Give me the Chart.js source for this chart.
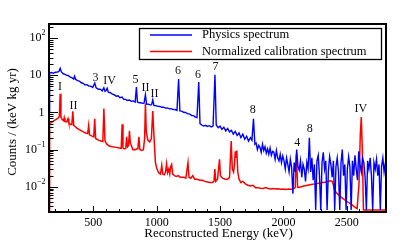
<!DOCTYPE html>
<html><head><meta charset="utf-8">
<script src="https://cdn.jsdelivr.net/npm/chart.js@4.4.1/dist/chart.umd.min.js"></script>
<style>html,body{margin:0;padding:0;background:#fff;overflow:hidden}</style>
</head><body>
<canvas id="c" width="415" height="244"></canvas>
<script>
// ---------- data ----------
const physEnergy = [
150,155,170,185,200,215,228,238,248,262,
277,290,303,318,333,345,352,360,375,390,
405,420,435,450,465,480,495,511,522,540,
555,570,583,592,600,609,618,635,650,665,
680,695,710,727,740,755,770,785,800,815,
830,840,848,862,875,890,900,911,920,935,
950,960,969,978,995,1010,1025,1040,1055,1070,
1085,1100,1115,1130,1145,1160,1173,1183,1197,1212,
1227,1242,1262,1277,1292,1305,1318,1332,1342,1355,
1370,1385,1400,1415,1430,1445,1460,1470,1485,1500,
1515,1530,1545,1560,1575,1590,1605,1620,1635,1650,
1665,1680,1695,1710,1725,1740,1752,1764,1775,
1785,1795,1805,1815,1825,1835,1845,1855,1865,1875,
1885,1895,1905,1915,1925,1935,1945,1955,1965,1975,
1985,1995,2005,2015,2025,2035,2045,2055,2065,2075,
2085,2095,2105,2115,2125,2135,2145,2155,2165,2175,
2185,2195,2205,2215,2225,2235,2245,2255,2265,2275,
2285,2295,2305,2315,2325,2335,2345,2355,2365,2375,
2385,2395,2405,2415,2425,2435,2445,2455,2465,2475,
2485,2495,2505,2515,2525,2535,2545,2555,2565,2575,
2585,2595,2605,2615,2625,2635,2645,2655,2665,2675,
2685,2695,2705,2715,2725,2735,2745,2755,2765,2775,
2785,2795,2805];
const physCounts = [
1.0,11.5,11.9,11.3,12.1,12.2,12.7,15.5,12.3,11.0,
10.6,10.0,9.8,8.9,8.5,7.9,9.4,7.8,7.2,7.0,
6.3,6.1,5.5,5.6,5.1,5.1,4.7,6.2,4.6,4.2,
4.2,3.8,4.6,3.7,3.9,4.5,3.5,3.4,3.1,3.0,
2.75,2.8,2.5,2.6,2.25,2.25,2.1,2.15,2.0,2.05,
1.9,4.8,1.92,1.82,1.83,1.76,1.78,3.0,1.68,1.67,
1.58,1.63,2.2,1.55,1.52,1.46,1.45,1.38,1.39,1.31,
1.32,1.25,1.26,1.19,1.2,1.14,7.9,1.1,1.09,1.01,
1.0,0.93,0.9,0.82,0.82,0.75,0.73,6.6,0.5,0.46,
0.43,0.45,0.42,0.44,0.41,0.43,10.3,0.46,0.39,0.43,
0.35,0.40,0.32,0.37,0.30,0.33,0.26,0.31,0.24,0.28,
0.21,0.26,0.19,0.23,0.17,0.21,0.18,0.68,0.14,
0.15,0.10,0.13,0.115,0.085,0.14,0.095,0.12,0.08,0.105,
0.075,0.11,0.07,0.09,0.085,0.055,0.095,0.06,0.05,0.075,
0.045,0.068,0.05,0.03,0.06,0.04,0.025,0.055,0.033,0.0065,
0.045,0.025,0.10,0.035,0.028,0.05,0.018,0.04,0.03,0.014,
0.045,0.03,0.21,0.025,0.06,0.015,0.04,0,0.05,0.07,
0.02,0,0.045,0.085,0.03,0.05,0,0.025,0.065,0.04,
0.018,0.05,0,0.035,0.06,0.025,0,0.045,0.1,0.02,
0.04,0,0.03,0.065,0.035,0,0.05,0.02,0.07,0.03,
0.015,0.09,0.04,0.025,0.06,0.045,0.018,0,0.05,0.03,
0.06,0.02,0,0.045,0.03,0.055,0.02,0.04,0,0.035,
0.06,0.025,0.045];

const calibEnergy = [
150,155,170,190,210,225,232,238,244,255,
265,270,276,290,300,307,320,330,338,345,
356,370,385,400,420,440,455,463,470,490,
503,511,518,540,560,575,583,592,606,625,
650,680,705,720,727,734,748,756,763,770,
778,785,792,800,812,830,845,852,860,867,
880,895,905,911,918,930,945,958,969,978,
990,1000,1015,1030,1040,1048,1060,1070,1078,1086,
1095,1103,1110,1118,1126,1140,1155,1170,1185,1200,
1215,1230,1247,1255,1270,1285,1300,1320,1340,1360,
1380,1400,1420,1440,1452,1459,1466,1480,1496,1503,
1520,1540,1560,1575,1588,1597,1607,1614,1620,1626,
1632,1640,1650,1665,1680,1700,1720,1740,1760,1780,
1800,1820,1840,1860,1880,1900,1920,1940,1960,1980,
2000,2020,2040,2060,2080,2093,2103,2112,2130,2160,
2190,2220,2250,2280,2310,2340,2370,2385,2395,2405,
2420,2443,2470,2508,2540,2561,2582,2597,2607,2615,
2623,2632,2700,2810];
const calibCounts = [
0,0.50,0.54,0.60,0.66,0.72,0.80,3.2,0.74,0.64,
0.60,0.72,0.57,0.56,0.68,0.52,0.48,0.47,1.08,0.45,
0.42,0.38,0.35,0.33,0.30,0.28,0.27,0.45,0.25,0.23,
0.22,0.68,0.20,0.18,0.17,0.165,1.28,0.17,0.14,0.125,
0.12,0.115,0.11,0.108,0.48,0.11,0.105,0.11,0.22,0.12,
0.13,0.32,0.15,0.13,0.10,0.10,0.105,0.12,0.22,0.10,
0.095,0.10,0.20,1.75,0.30,0.18,0.16,0.20,1.1,0.25,
0.045,0.032,0.024,0.022,0.038,0.022,0.021,0.025,0.042,0.024,
0.03,0.022,0.035,0.04,0.022,0.02,0.019,0.02,0.018,0.018,
0.018,0.017,0.045,0.018,0.017,0.02,0.016,0.016,0.015,0.015,
0.014,0.0135,0.013,0.013,0.014,0.03,0.014,0.016,0.055,0.02,
0.017,0.016,0.016,0.018,0.17,0.03,0.025,0.04,0.09,0.06,
0.095,0.025,0.016,0.013,0.014,0.012,0.011,0.0105,0.011,0.0095,
0.0095,0.0092,0.009,0.0095,0.009,0.0088,0.009,0.0087,0.0088,0.0086,
0.0087,0.0085,0.0087,0.0086,0.0088,0.0095,0.076,0.0098,0.0098,0.0105,
0.011,0.0115,0.012,0.0125,0.013,0.0135,0.0145,0.014,0.011,0.008,
0.0068,0.0057,0.0048,0.0039,0.0033,0.0029,0.0026,0.012,0.25,0.75,
0.1,0,0,0];

const xTickLabels = [500, 1000, 1500, 2000, 2500];
const yTickExponents = [-2, -1, 0, 1, 2];

const peakLabelText   = ['I','II','3','IV','5','II','II','6','6','7','8','4','8','IV'];
const peakLabelEnergy = [237,344,517,628,833,912,983,1168,1326,1464,1759,2110,2209,2611];
const peakLabelCounts = [4.84,1.54,8.7,7.0,7.4,4.69,3.14,13.4,10.2,16.6,1.17,0.157,0.36,1.24];

const seriesNames = ['Physics spectrum', 'Normalized calibration spectrum'];
const seriesColors = ['#0000ff', '#ff0000'];

// ---------- axis ranges ----------
const X_MIN = 150, X_MAX = 2810;
const Y_MIN = 0.0021, Y_MAX = 240;
const FONT = "'Liberation Serif', 'Times New Roman', serif";

function toPoints(es, vs) {
  return es.map((e, i) => ({ x: e, y: vs[i] > 0 ? vs[i] : Y_MIN * 1.13 }));
}

const rootStyle = {
  id: 'rootStyle',
  afterDatasetsDraw(chart) {
    const { ctx, chartArea: a, scales: { x, y } } = chart;
    ctx.save();
    ctx.strokeStyle = '#000';
    ctx.lineWidth = 1;
    ctx.beginPath();
    for (let v = 200; v <= 2800; v += 100) {
      const px = Math.round(x.getPixelForValue(v)) + 0.5;
      const len = (v % 500 === 0) ? 6 : 3;
      ctx.moveTo(px, a.bottom); ctx.lineTo(px, a.bottom - len);
    }
    for (let e = -3; e <= 2; e++) {
      for (let k = 1; k <= 9; k++) {
        const v = k * Math.pow(10, e);
        if (v < Y_MIN || v > Y_MAX) continue;
        const py = Math.round(y.getPixelForValue(v)) + 0.5;
        const len = (k === 1) ? 9 : 4.5;
        ctx.moveTo(a.left, py); ctx.lineTo(a.left + len, py);
      }
    }
    ctx.stroke();
    ctx.lineWidth = 2;
    ctx.strokeRect(a.left, a.top, a.right - a.left, a.bottom - a.top);

    ctx.fillStyle = '#000';
    ctx.textBaseline = 'middle';
    yTickExponents.forEach(n => {
      const py = y.getPixelForValue(Math.pow(10, n));
      const right = a.left - 3.5;
      if (n === 0 || n === 1) {
        ctx.font = '12px ' + FONT; ctx.textAlign = 'right';
        ctx.fillText(n === 0 ? '1' : '10', n === 0 ? right - 1 : right - 4, py);
      } else {
        const sup = (n < 0 ? '\u2212' : '') + Math.abs(n);
        ctx.font = '8px ' + FONT;
        const sw = ctx.measureText(sup).width;
        ctx.textAlign = 'left';
        ctx.fillText(sup, right - sw, py - 5);
        ctx.font = '12px ' + FONT; ctx.textAlign = 'right';
        ctx.fillText('10', right - sw, py);
      }
    });

    ctx.font = '13px ' + FONT;
    ctx.textAlign = 'center';
    ctx.fillText('Reconstructed Energy (keV)', 218.5, 233.5);
    ctx.save();
    ctx.translate(13, 122);
    ctx.rotate(-Math.PI / 2);
    ctx.fillText('Counts / (keV kg yr)', 0, 0);
    ctx.restore();

    ctx.font = '12px ' + FONT;
    ctx.fillStyle = '#111';
    peakLabelText.forEach((t, i) => {
      ctx.fillText(t, x.getPixelForValue(peakLabelEnergy[i]), y.getPixelForValue(peakLabelCounts[i]));
    });

    const lx = 139.5, ly = 28.5, lw = 242, lh = 31;
    ctx.fillStyle = '#fff';
    ctx.fillRect(lx, ly, lw, lh);
    ctx.lineWidth = 1.3; ctx.strokeStyle = '#000';
    ctx.strokeRect(lx, ly, lw, lh);
    ctx.textAlign = 'left';
    ctx.font = '12.5px ' + FONT;
    chart.data.datasets.forEach((ds, i) => {
      const ry = 35 + i * 16.5;
      ctx.strokeStyle = ds.borderColor; ctx.lineWidth = 1.5;
      ctx.beginPath(); ctx.moveTo(150, ry); ctx.lineTo(192, ry); ctx.stroke();
      ctx.fillStyle = '#000';
      ctx.fillText(ds.label, 202, ry);
    });
    ctx.restore();
  }
};

new Chart(document.getElementById('c'), {
  type: 'scatter',
  data: {
    datasets: [
      { label: seriesNames[0], data: toPoints(physEnergy, physCounts), borderColor: seriesColors[0],
        backgroundColor: seriesColors[0], showLine: true, pointRadius: 0, borderWidth: 1.4, tension: 0 },
      { label: seriesNames[1], data: toPoints(calibEnergy, calibCounts), borderColor: seriesColors[1],
        backgroundColor: seriesColors[1], showLine: true, pointRadius: 0, borderWidth: 1.5, tension: 0 }
    ]
  },
  options: {
    responsive: false, animation: false, devicePixelRatio: 1,
    layout: { padding: { top: 24, right: 29, left: 0, bottom: 0 } },
    plugins: { legend: { display: false }, tooltip: { enabled: false } },
    scales: {
      x: {
        type: 'linear', min: X_MIN, max: X_MAX,
        grid: { display: false, drawTicks: false }, border: { display: false },
        afterBuildTicks: s => { s.ticks = xTickLabels.map(v => ({ value: v })); },
        ticks: { font: { family: FONT, size: 12 }, color: '#000', padding: 4, maxRotation: 0, autoSkip: false,
                 callback: v => String(v) },
        afterFit: s => { s.height = 32; }
      },
      y: {
        type: 'logarithmic', min: Y_MIN, max: Y_MAX,
        grid: { display: false, drawTicks: false }, border: { display: false },
        ticks: { display: false },
        afterFit: s => { s.width = 49; }
      }
    }
  },
  plugins: [rootStyle]
});
</script>
</body></html>
